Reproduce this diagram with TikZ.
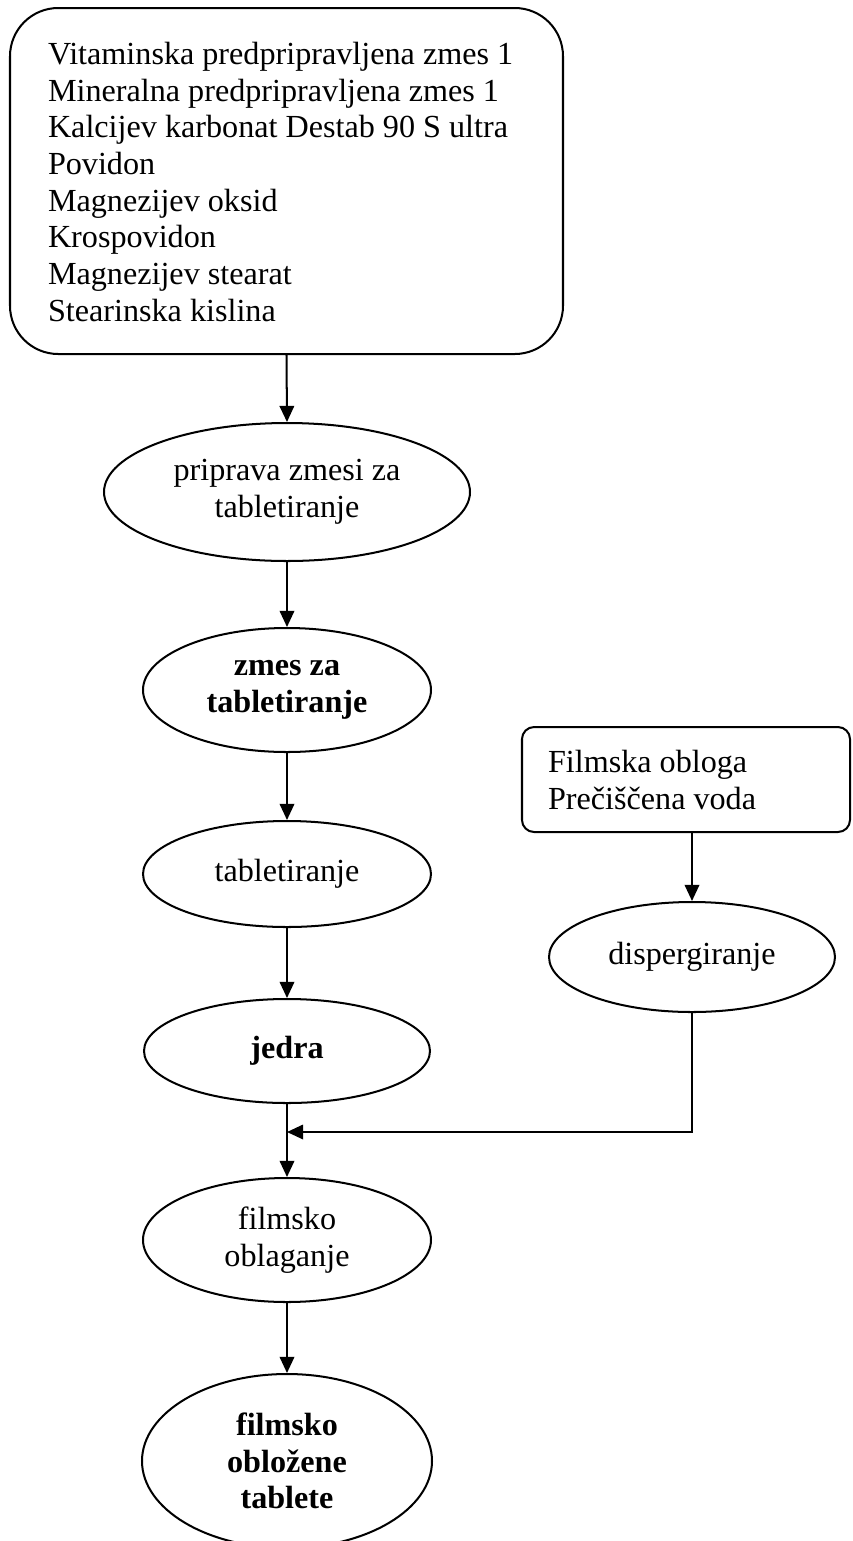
\documentclass[tikz,border=0pt]{standalone}
\usepackage{fontspec}
\setmainfont{Liberation Serif}
\usetikzlibrary{shapes.geometric,arrows.meta}
\newcommand{\px}{0.3731pt}
\begin{document}
\begin{tikzpicture}[x=0.3731pt,y=-0.3731pt,
  line width=0.75pt,
  every node/.style={font=\fontsize{12}{13.7}\selectfont},
  txt/.style={anchor=north west, align=left, inner sep=0pt},
  bigbox/.style={draw, rounded corners=18pt, inner sep=0pt},
  smallbox/.style={draw, rounded corners=4.5pt, inner sep=0pt},
  stepnode/.style={draw, ellipse, inner sep=0pt, align=center},
  stepbold/.style={stepnode, font=\fontsize{12}{13.7}\selectfont\bfseries},
  arr/.style={-{Triangle[length=6pt,width=5.4pt]}}
]
\useasboundingbox (0,0) rectangle (853,1541);

% input materials for the core mixture
\node[bigbox, minimum width=553*\px, minimum height=346*\px] (ingr) at (286.5,181) {};
\node[txt] (ingrtxt) at (47,41) {Vitaminska predpripravljena zmes 1\\
Mineralna predpripravljena zmes 1\\
Kalcijev karbonat Destab 90 S ultra\\
Povidon\\
Magnezijev oksid\\
Krospovidon\\
Magnezijev stearat\\
Stearinska kislina};

% main process column
\node[stepnode, minimum width=366*\px, minimum height=138*\px] (mix) at (287,492) {priprava zmesi za\\tabletiranje};
\node[stepbold, minimum width=288*\px, minimum height=124*\px] (blend) at (287,690) {zmes za\\tabletiranje};
\node[stepnode, minimum width=288*\px, minimum height=106*\px] (press) at (287,874) {tabletiranje};
\node[stepbold, minimum width=286*\px, minimum height=104*\px] (cores) at (287,1051) {jedra};
\node[stepnode, minimum width=288*\px, minimum height=124*\px] (coat) at (287,1240) {filmsko\\oblaganje};
\node[stepbold, minimum width=290*\px, minimum height=174*\px] (final) at (287,1461) {filmsko\\obložene\\tablete};

% coating branch
\node[smallbox, minimum width=328*\px, minimum height=105*\px] (film) at (686,779.5) {};
\node[txt] (filmtxt) at (547,749) {Filmska obloga\\Prečiščena voda};
\node[stepnode, minimum width=286*\px, minimum height=110*\px] (disp) at (692,957) {dispergiranje};
\coordinate (join) at (287,1132);

% connectors
\draw[arr] (ingr.south) -- (mix.north);
\draw[arr] (mix.south) -- (blend.north);
\draw[arr] (blend.south) -- (press.north);
\draw[arr] (press.south) -- (cores.north);
\draw[arr] (cores.south) -- (coat.north);
\draw[arr] (coat.south) -- (final.north);
\draw[arr] (disp.north |- film.south) -- (disp.north);
\draw[arr] (disp.south) |- (join);
\end{tikzpicture}
\end{document}
